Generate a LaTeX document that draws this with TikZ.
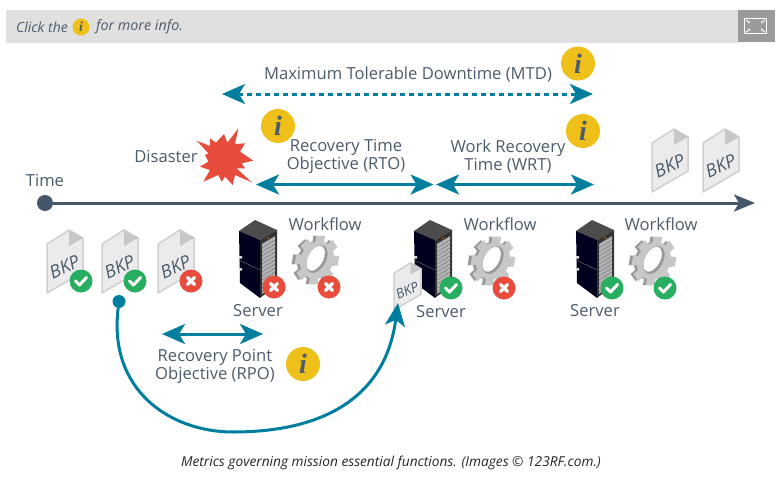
\documentclass[tikz,border=0pt]{standalone}
\usepackage{fontspec}
\setmainfont{Open Sans}
\newfontfamily\infofont{Liberation Serif}
\usetikzlibrary{arrows.meta,positioning}
\definecolor{tealblue}{HTML}{007E9E}
\definecolor{slategray}{HTML}{44566A}
\definecolor{labelgray}{HTML}{4C5B6B}
\definecolor{infoyellow}{HTML}{EFC01A}
\definecolor{okgreen}{HTML}{27AE60}
\definecolor{badred}{HTML}{E74C3C}
\definecolor{barfill}{HTML}{E0E0E0}
\definecolor{btnfill}{HTML}{9A9A9A}
\tikzset{
  label/.style={font=\fontsize{16.6}{18.5}\selectfont,text=labelgray,align=center,inner sep=0pt},
  span/.style={line width=3pt,draw=tealblue,{Stealth[length=23pt,width=20pt,inset=6pt]}-{Stealth[length=23pt,width=20pt,inset=6pt]}},
  info/.style={circle,fill=infoyellow,inner sep=0pt,minimum size=34pt,text=labelgray,
    font=\infofont\bfseries\itshape\fontsize{28}{28}\selectfont},
  smallinfo/.style={info,minimum size=17pt,font=\infofont\bfseries\itshape\fontsize{14}{14}\selectfont},
  bkpdoc/.pic={
    \fill[fill=black!8,draw=black!19,line width=1.5pt,line join=round]
      (0,0) -- (0,-49) -- (22,-63) -- (36,-55) -- (36,-21) -- cycle;
    \fill[black!22] (22,-63) -- (36,-55) -- (22,-47) -- cycle;
    \node[text=labelgray,font=\itshape\fontsize{18}{18}\selectfont,rotate=24,inner sep=0pt,transform shape] (-text) at (17.5,-26) {BKP};
  },
  okbadge/.pic={
    \fill[okgreen] (0,0) circle (11.5);
    \draw[white,line width=3pt,line cap=round,line join=round] (-5.5,0) -- (-1.5,4) -- (5.5,-3.5);
  },
  badbadge/.pic={
    \fill[badred] (0,0) circle (11.5);
    \draw[white,line width=3.2pt,line cap=round] (-3.5,-3.5) -- (3.5,3.5) (-3.5,3.5) -- (3.5,-3.5);
  },
  server/.pic={
    \fill[black!70] (0,0) -- (-16,11) -- (5,20) -- (22,10) -- cycle;
    \fill[black!88!blue] (-16,11) -- (5,20) -- (5,78) -- (-15,63) -- cycle;
    \fill[black!80] (5,20) -- (22,10) -- (22,65) -- (5,78) -- cycle;
    \fill[black!30] (7,24) -- (20,16) -- (20,65) -- (7,74) -- cycle;
    \foreach \v in {0,4,...,48}
      \draw[black!62,line width=.6pt,dash pattern=on 1pt off 1pt] (7,24+\v) -- (20,16+\v);
    \draw[black!60,line width=.5pt] (-16,40) -- (5,50);
    \fill[black!15] (-16,36) rectangle (-13,38.5) (-16,48) rectangle (-13,50.5);
    \fill[orange!60!black] (12,17) rectangle (14,19);
  },
  gearpic/.pic={
    \foreach \shft/\col in {-3/black!40,0/black!22}
      \fill[\col,shift={(\shft,1)},rotate=-28,xscale=.84]
        (-1:19) \foreach \a in {0,45,...,315} {
          -- (\a+8:19.5) -- (\a+11:25.5) -- (\a+34:25.5) -- (\a+37:19.5)
        } -- cycle;
    \fill[black!40,rotate=-28] (0,0) ellipse (9 and 15);
    \fill[white,rotate=-28] (-1.5,0) ellipse (7.5 and 13.5);
  },
}
\begin{document}
\begin{tikzpicture}[x=1pt,y=-1pt]
  \useasboundingbox (0,0) rectangle (779,479);
  % header bar
  \fill[barfill] (6,10) rectangle (738,43);
  \fill[btnfill] (738,10) rectangle (775,42);
  \draw[white,line width=.8pt] (744.5,18.5) rectangle (766.5,33.5);
  \foreach \sx/\sy/\ex/\ey in {746/20/750/23,765/20/761/23,746/32/750/29,765/32/761/29}
    \draw[white,line width=1pt,-{Stealth[length=2.5pt,width=3pt,reversed]}] (\sx,\sy) -- (\ex,\ey);
  \node[font=\itshape\fontsize{14}{14}\selectfont,text=labelgray,inner sep=0pt] (clickthe) at (42,27) {Click the};
  \node[smallinfo] (infohead) at (81,27) {i};
  \node[font=\itshape\fontsize{14.3}{14}\selectfont,text=labelgray,inner sep=0pt] (moreinfo) at (139.5,27) {for more info.};

  % time line
  \node[circle,fill=slategray,minimum size=16pt,inner sep=0pt] (timedot) at (45,203) {};
  \coordinate (timeend) at (755,203);
  \draw[line width=3pt,draw=slategray,-{Stealth[length=21pt,width=17pt,inset=5pt]}] (timedot) -- (timeend);
  \node[label] (time) at (45,180) {Time};

  % spans
  \coordinate (mtdl) at (222,94);
  \coordinate (mtdr) at (593,94);
  \coordinate (rtol) at (256,184.5);
  \coordinate (rtor) at (433.5,184.5);
  \coordinate (wrtl) at (436,184.5);
  \coordinate (wrtr) at (594,184.5);
  \coordinate (rpol) at (162,334);
  \coordinate (rpor) at (263,334);
  \draw[span,dash pattern=on 5pt off 4pt] (mtdl) -- (mtdr);
  \draw[span] (rtol) -- (rtor);
  \draw[span] (wrtl) -- (wrtr);
  \draw[span] (rpol) -- (rpor);

  \node[label] (mtd) at (408,74.5) {Maximum Tolerable Downtime (MTD)};
  \node[label] (disaster) at (166,156) {Disaster};
  \node[label] (rto) at (346,156.5) {Recovery Time\\Objective (RTO)};
  \node[label] (wrt) at (508,156.5) {Work Recovery\\Time (WRT)};
  \node[label] (rpo) at (215,366.5) {Recovery Point\\Objective (RPO)};

  \node[info] (infomtd) at (578,63.5) {i};
  \node[info] (inforto) at (278,126) {i};
  \node[info] (infowrt) at (583,131) {i};
  \node[info] (inforpo) at (303,364) {i};

  % disaster burst
  \fill[badred,shift={(190,120)},scale=1/3]
    (20,62) -- (60,78) -- (60,55) -- (78,68) -- (102,42) -- (112,68) -- (145,25) -- (135,72)
    -- (165,70) -- (150,95) -- (190,122) -- (155,130) -- (165,145) -- (140,145) -- (185,187)
    -- (135,165) -- (128,195) -- (105,170) -- (95,185) -- (85,165) -- (40,185) -- (60,150)
    -- (30,140) -- (55,125) -- (45,105) -- (55,100) -- cycle;

  % backups
  \pic (bkpa) at (47,293) {bkpdoc};
  \pic (bkpb) at (102,293) {bkpdoc};
  \pic (bkpc) at (158,293) {bkpdoc};
  \pic (bkpd) at (652,192) {bkpdoc};
  \pic (bkpe) at (703,192) {bkpdoc};
  \pic at (81,281) {okbadge};
  \pic at (135,281) {okbadge};
  \pic at (191,281) {badbadge};

  % servers and workflows
  \pic at (255,220) {server};
  \pic at (430,220) {server};
  \pic at (592,220) {server};
  \pic at (317,259) {gearpic};
  \pic at (493,260) {gearpic};
  \pic at (654,260) {gearpic};
  \pic at (274,287) {badbadge};
  \pic at (329,287) {badbadge};
  \pic at (451,288) {okbadge};
  \pic at (504,288) {badbadge};
  \pic at (612,288) {okbadge};
  \pic at (665,288) {okbadge};
  \node[label] (servera) at (258,311) {Server};
  \node[label] (serverb) at (441,312) {Server};
  \node[label] (serverc) at (595,311) {Server};
  \node[label] (flowa) at (325,224) {Workflow};
  \node[label] (flowb) at (500,224) {Workflow};
  \node[label] (flowc) at (661,224) {Workflow};

  % restored backup
  \pic[scale=.75] (bkpf) at (394,310) {bkpdoc};
  \node[circle,fill=tealblue,minimum size=13pt,inner sep=0pt] (rpodot) at (119,301.5) {};
  \coordinate (rpotip) at (398,303);
  \coordinate (rpolow) at (233,432);
  \draw[line width=3pt,draw=tealblue,-{Stealth[length=23pt,width=20pt,inset=6pt]}]
    (rpodot) .. controls (108,390) and (170,432) .. (rpolow)
    .. controls (320,432) and (385,400) .. (rpotip);

  \node[font=\itshape\fontsize{13.7}{15}\selectfont,text=black!85,inner sep=0pt] (caption) at (391,463)
    {Metrics governing mission essential functions. (Images © 123RF.com.)};
\end{tikzpicture}
\end{document}
